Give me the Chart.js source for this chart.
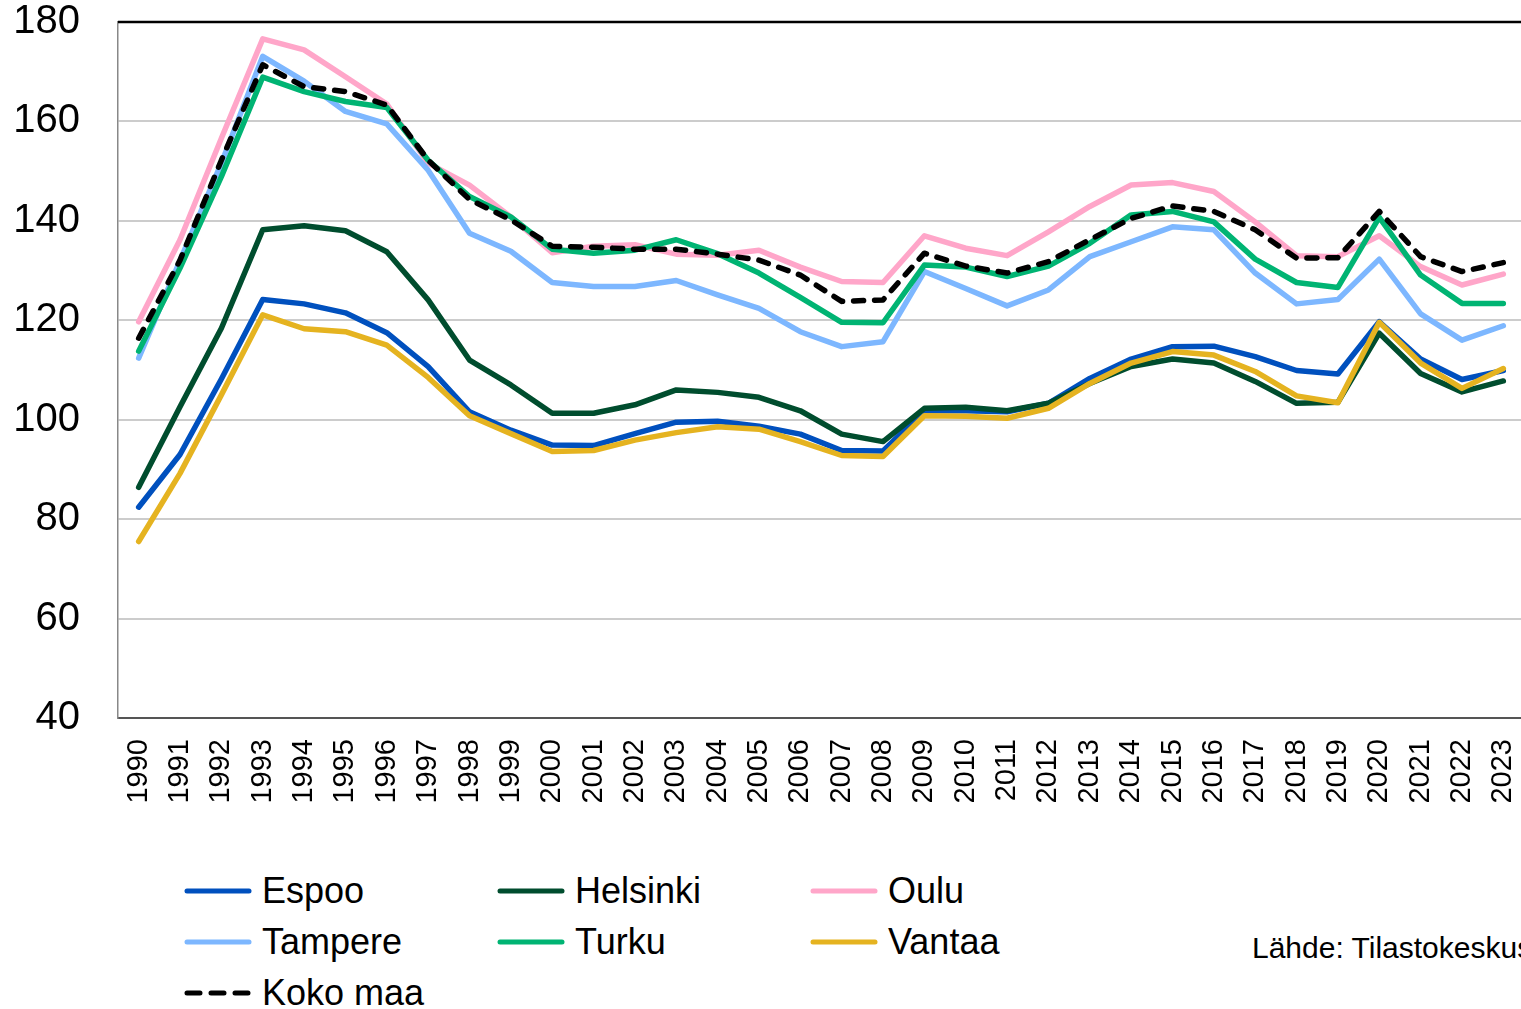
<!DOCTYPE html>
<html>
<head>
<meta charset="utf-8">
<script src="https://cdn.jsdelivr.net/npm/chart.js@4/dist/chart.umd.min.js"></script>
<style>
  html, body { margin: 0; padding: 0; background: #ffffff; overflow: hidden; }
  #page { position: relative; width: 1521px; height: 1009px; overflow: hidden; background: #fff;
          font-family: "Liberation Sans", Arial, sans-serif; color: #000; }
  #c { position: absolute; left: 0; top: 0; }
  #legend { position: absolute; left: 184px; top: 866px; }
  .item { position: absolute; display: flex; align-items: center; height: 50px; white-space: nowrap;
          font-size: 36px; line-height: 1; }
  .item svg { margin-right: 10px; }
  #source { position: absolute; left: 1252px; top: 933px; font-size: 30px; line-height: 1; white-space: nowrap; }
</style>
</head>
<body>
<div id="page">
  <canvas id="c" width="1540" height="830"></canvas>
  <div id="legend"></div>
  <div id="source">Lähde: Tilastokeskus</div>
</div>
<script>
const years = ["1990","1991","1992","1993","1994","1995","1996","1997","1998","1999",
  "2000","2001","2002","2003","2004","2005","2006","2007","2008","2009",
  "2010","2011","2012","2013","2014","2015","2016","2017","2018","2019",
  "2020","2021","2022","2023"];

const espoo = [82.4,93.0,108.2,124.2,123.3,121.5,117.5,110.7,101.6,97.9,
  94.9,94.8,97.2,99.5,99.7,98.7,97.1,93.8,93.7,101.8,
  101.8,101.6,103.3,108.3,112.2,114.7,114.8,112.7,109.9,109.2,
  119.7,112.2,108.1,109.9];
const helsinki = [86.4,102.6,118.4,138.2,139.0,138.0,133.8,124.1,112.0,107.0,
  101.3,101.3,103.0,106.0,105.5,104.5,101.8,97.1,95.6,102.3,
  102.5,101.8,103.3,107.3,110.7,112.2,111.4,107.7,103.3,103.5,
  117.4,109.3,105.6,107.8];
const oulu = [119.7,136.2,156.6,176.6,174.4,169.0,163.5,151.6,147.2,140.8,
  133.6,134.9,135.2,133.3,133.1,134.1,130.7,127.8,127.6,137.0,
  134.5,133.0,137.8,142.9,147.2,147.7,145.9,139.8,133.0,132.8,
  137.0,130.8,127.1,129.3];
const tampere = [112.4,132.0,151.6,173.1,168.1,162.0,159.5,150.2,137.5,133.9,
  127.6,126.8,126.8,128.0,125.1,122.4,117.7,114.7,115.7,129.8,
  126.4,122.9,126.1,132.8,135.8,138.8,138.2,129.5,123.3,124.2,
  132.3,121.3,116.0,118.9];
const turku = [113.8,130.5,148.9,168.9,166.0,164.0,162.8,152.2,144.9,140.8,
  134.3,133.5,134.1,136.2,133.4,129.5,124.6,119.6,119.5,131.1,
  130.7,128.8,130.9,135.5,141.2,141.9,139.8,132.3,127.6,126.6,
  140.7,129.1,123.4,123.4];
const vantaa = [75.5,89.2,105.0,121.1,118.3,117.7,115.0,108.5,100.8,97.2,
  93.6,93.8,95.9,97.4,98.6,98.1,95.6,92.8,92.6,100.8,
  100.7,100.3,102.3,107.3,111.4,113.7,113.0,109.7,104.8,103.4,
  119.6,111.4,106.3,110.3];
const kokoMaa = [116.4,132.1,152.2,171.4,167.0,166.0,163.3,152.2,144.3,140.2,
  134.9,134.7,134.3,134.3,133.3,132.1,129.1,123.8,124.1,133.5,
  130.9,129.5,131.8,136.2,140.5,143.0,141.9,138.2,132.5,132.6,
  141.9,132.8,129.8,131.6];

const seriesNames = ["Espoo","Helsinki","Oulu","Tampere","Turku","Vantaa","Koko maa"];
const seriesData = [espoo, helsinki, oulu, tampere, turku, vantaa, kokoMaa];
const seriesColors = ["#0050BE","#004D2E","#FFA6C9","#7DB7FF","#00B473","#E5B320","#000000"];
const yTicks = [40,60,80,100,120,140,160,180];

const FONT = "'Liberation Sans', Arial, sans-serif";

const datasets = seriesNames.map((name, i) => ({
  label: name,
  data: seriesData[i],
  borderColor: seriesColors[i],
  backgroundColor: seriesColors[i],
  borderWidth: 5.5,
  pointRadius: 0,
  pointHoverRadius: 0,
  tension: 0,
  fill: false,
  borderJoinStyle: 'round',
  borderCapStyle: 'round',
  borderDash: name === "Koko maa" ? [10, 11] : [],
  order: seriesNames.length - i
}));

const frame = {
  id: 'frame',
  afterDatasetsDraw(chart) {
    const {ctx, chartArea} = chart;
    ctx.save();
    ctx.strokeStyle = '#000';
    ctx.lineWidth = 2.5;
    ctx.beginPath();
    ctx.moveTo(chartArea.left, chartArea.top);
    ctx.lineTo(chartArea.right, chartArea.top);
    ctx.stroke();
    ctx.restore();
  }
};

new Chart(document.getElementById('c'), {
  type: 'line',
  data: { labels: years, datasets },
  plugins: [frame],
  options: {
    responsive: false,
    animation: false,
    layout: { padding: { top: 22, right: 16, left: 0, bottom: 0 } },
    plugins: { legend: { display: false }, tooltip: { enabled: false } },
    scales: {
      x: {
        type: 'category',
        offset: true,
        grid: { display: false, drawTicks: true, tickLength: 21, tickColor: 'rgba(0,0,0,0)' },
        border: { display: true, color: '#555555', width: 2 },
        ticks: {
          autoSkip: false, maxRotation: 90, minRotation: 90, padding: 0,
          color: '#000', font: { family: FONT, size: 29, lineHeight: 1 }
        },
        afterFit(scale) { scale.height = 112; }
      },
      y: {
        min: 40, max: 180,
        afterBuildTicks(scale) { scale.ticks = yTicks.map(v => ({ value: v })); },
        grid: { color: '#cccccc', lineWidth: 2, drawTicks: true, tickLength: 38, tickColor: 'rgba(0,0,0,0)' },
        border: { display: true, color: '#888888', width: 1.5 },
        ticks: {
          padding: 0, color: '#000',
          font: { family: FONT, size: 40, lineHeight: 1 }
        },
        afterFit(scale) { scale.width = 118; }
      }
    }
  }
});

// HTML legend built from the dataset arrays
const legend = document.getElementById('legend');
seriesNames.forEach((name, i) => {
  const col = i % 3, row = Math.floor(i / 3);
  const div = document.createElement('div');
  div.className = 'item';
  div.style.left = (col * 313) + 'px';
  div.style.top = (row * 51) + 'px';
  const dash = name === "Koko maa" ? 'stroke-dasharray="13 11"' : '';
  div.innerHTML = `<svg width="68" height="10"><line x1="3" y1="5" x2="65" y2="5" stroke="${seriesColors[i]}" stroke-width="5" stroke-linecap="round" ${dash}/></svg><span>${name}</span>`;
  legend.appendChild(div);
});
</script>
</body>
</html>
